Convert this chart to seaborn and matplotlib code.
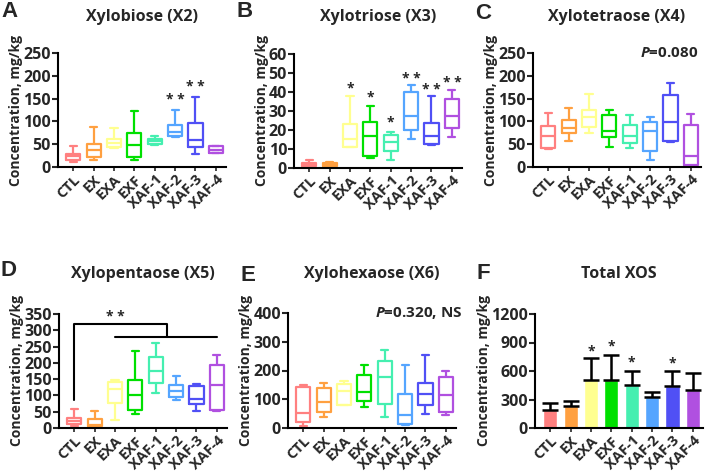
import matplotlib
matplotlib.use("Agg")
import matplotlib.pyplot as plt
import seaborn as sns
import pandas as pd

groups = ["CTL", "EX", "EXA", "EXF", "XAF-1", "XAF-2", "XAF-3", "XAF-4"]
colors = ["#FF8080", "#FFA040", "#FFFF90", "#00E000", "#45EFB0", "#55A5FF", "#5050F5", "#B050E0"]

# min, q1, median, q3, max for each group
x2 = [(12, 16, 24, 29, 46), (15, 21, 37, 51, 88), (42, 43, 53, 62, 85), (16, 22, 48, 75, 123),
      (49, 50, 57, 62, 68), (65, 68, 77, 92, 124), (28, 44, 60, 97, 154), (30, 31, 38, 45, 47)]
x3 = [(0.5, 1.1, 2.1, 2.8, 4.1), (1.0, 1.0, 1.9, 2.8, 3.2), (11.0, 11.1, 15.4, 23.3, 38.0),
      (5.5, 6.4, 16.8, 24.0, 32.8), (4.4, 8.8, 13.8, 17.3, 19.1), (15.5, 19.8, 27.2, 40.2, 43.8),
      (12.2, 12.4, 17.1, 23.6, 38.0), (16.4, 20.8, 27.2, 36.5, 41.1)]
x4 = [(39, 42, 69, 91, 118), (56, 75, 86, 102, 129), (75, 88, 110, 124, 160), (44, 65, 80, 115, 124),
      (42, 53, 69, 93, 115), (16, 36, 80, 99, 110), (55, 58, 99, 158, 185), (3, 4, 24, 93, 117)]
x5 = [(5, 12, 20, 31, 59), (4, 5, 10, 27, 53), (26, 76, 121, 140, 147), (44, 55, 102, 148, 235),
      (106, 138, 174, 219, 260), (87, 94, 114, 132, 161), (53, 74, 88, 130, 136), (51, 56, 132, 194, 225)]
x6 = [(6, 20, 52, 143, 151), (38, 54, 90, 139, 155), (81, 81, 130, 152, 162), (73, 93, 125, 183, 220),
      (37, 83, 176, 234, 270), (12, 14, 46, 118, 220), (50, 81, 119, 158, 253), (45, 56, 116, 176, 199)]

total_mean = [189, 230, 502, 502, 453, 330, 439, 396]
total_sd = [78, 54, 238, 270, 151, 45, 165, 179]

# significance marks: group index -> (label, y)
stars_a = {5: ("* *", 146), 6: ("* *", 176)}
stars_b = {2: ("*", 42), 3: ("*", 37), 4: ("*", 24), 5: ("* *", 47), 6: ("* *", 41), 7: ("* *", 44.5)}
stars_f = {2: ("*", 810), 3: ("*", 860), 4: ("*", 685), 6: ("*", 675)}

sns.set_style("ticks")
plt.rcParams["font.family"] = ["Open Sans", "DejaVu Sans"]
plt.rcParams["mathtext.fontset"] = "custom"
plt.rcParams["mathtext.it"] = "Open Sans:italic:bold"
plt.rcParams["mathtext.rm"] = "Open Sans:bold"

W, H = 708, 472
fig = plt.figure(figsize=(W / 100, H / 100), dpi=100)


def px_axes(left, top, width, height):
    return fig.add_axes([left / W, 1 - (top + height) / H, width / W, height / H])


def long_df(stats):
    rows = []
    for g, s in zip(groups, stats):
        for v in s:
            rows.append({"group": g, "value": v})
    return pd.DataFrame(rows)


def style(ax, ymax, step, title, letter, title_y, letter_xy):
    ax.set_ylim(0, ymax)
    ax.set_xlim(-0.75, 7.5)
    ax.set_yticks(range(0, ymax + 1, step))
    ax.set_xticks(range(len(groups)))
    ax.set_xticklabels(groups, rotation=45, ha="right", rotation_mode="anchor",
                       fontsize=10.5, fontweight="bold")
    for t in ax.get_yticklabels():
        t.set_fontweight("bold")
        t.set_fontsize(11.5)
    ax.tick_params(axis="y", length=4, width=1.5, pad=1)
    ax.tick_params(axis="x", length=3, width=1.2, pad=1)
    for s in ["left", "bottom"]:
        ax.spines[s].set_linewidth(1.5)
        ax.spines[s].set_color("black")
    sns.despine(ax=ax)
    ax.set_xlabel("")
    ax.set_ylabel("Concentration, mg/kg", fontsize=10, fontweight="bold", labelpad=0)
    bb = ax.get_position()
    fig.text((bb.x0 + bb.x1) / 2, 1 - title_y / H, title, ha="center", va="center",
             fontsize=11.5, fontweight="bold")
    fig.text(letter_xy[0] / W, 1 - letter_xy[1] / H, letter, ha="left", va="top",
             fontsize=16, fontweight="bold", family="Liberation Sans")


def add_stars(ax, stars):
    for i, (lab, y) in stars.items():
        ax.text(i, y, lab, ha="center", va="center", fontsize=10, fontweight="bold", clip_on=False)


def boxes(ax, stats):
    sns.boxplot(data=long_df(stats), x="group", y="value", hue="group", palette=colors,
                fill=False, whis=(0, 100), width=0.7, linewidth=1.6, showfliers=False,
                legend=False, ax=ax)


# A
ax = px_axes(58, 53, 168, 114)
boxes(ax, x2)
style(ax, 250, 50, "Xylobiose (X2)", "A", 17, (1, 1))
add_stars(ax, stars_a)

# B
ax = px_axes(294, 54, 168, 114)
boxes(ax, x3)
style(ax, 60, 10, "Xylotriose (X3)", "B", 17, (237, 1))
add_stars(ax, stars_b)

# C
ax = px_axes(533, 53, 168, 114)
boxes(ax, x4)
style(ax, 250, 50, "Xylotetraose (X4)", "C", 17, (475, 3))
ax.text(0.98, 1.0, r"$P$=0.080", transform=ax.transAxes, ha="right", va="center",
        fontsize=11, fontweight="bold")

# D
ax = px_axes(59, 314, 168, 114)
boxes(ax, x5)
style(ax, 350, 50, "Xylopentaose (X5)", "D", 274, (1, 260))
bracket_x = [0, 0, 4.55, 4.55]
bracket_y = [87, 320, 320, 279]
ax.plot(bracket_x, bracket_y, color="black", lw=1.5, clip_on=False)
ax.plot([2, 7], [279, 279], color="black", lw=1.5, clip_on=False)
ax.text(2.0, 340, "* *", ha="center", va="center", fontsize=10, fontweight="bold", clip_on=False)

# E
ax = px_axes(288, 313, 168, 115)
boxes(ax, x6)
style(ax, 400, 100, "Xylohexaose (X6)", "E", 274, (240, 265))
ax.text(1.04, 1.0, r"$P$=0.320, NS", transform=ax.transAxes, ha="right", va="center",
        fontsize=11, fontweight="bold")

# F
ax = px_axes(535, 314, 168, 114)
df_tot = pd.DataFrame({"group": groups, "mean": total_mean, "sd": total_sd})
sns.barplot(data=df_tot, x="group", y="mean", hue="group", palette=colors, saturation=1,
            width=0.7, legend=False, errorbar=None, ax=ax)
ax.errorbar(range(len(groups)), df_tot["mean"], yerr=[[0] * len(groups), df_tot["sd"]],
            fmt="none", ecolor="black", elinewidth=1.8, capsize=5.5, capthick=1.8)
style(ax, 1200, 300, "Total XOS", "F", 274, (477, 263))
add_stars(ax, stars_f)

fig.savefig("out.png", dpi=100)
